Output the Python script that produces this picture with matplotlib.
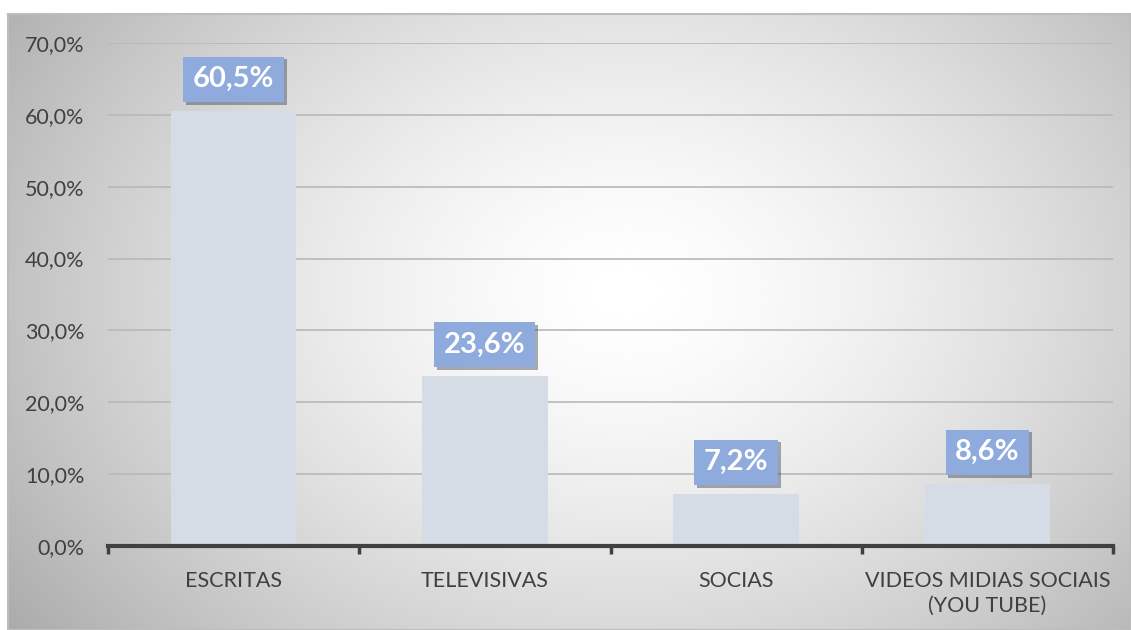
import numpy as np
import matplotlib.pyplot as plt
from matplotlib import patheffects as pe

categorias = ["ESCRITAS", "TELEVISIVAS", "SOCIAS", "VIDEOS MIDIAS SOCIAIS\n(YOU TUBE)"]
valores = [60.5, 23.6, 7.2, 8.6]
rotulos = ["60,5%", "23,6%", "7,2%", "8,6%"]
yticks = [0, 10, 20, 30, 40, 50, 60, 70]
ytick_labels = ["0,0%", "10,0%", "20,0%", "30,0%", "40,0%", "50,0%", "60,0%", "70,0%"]

plt.rcParams['font.family'] = ['Lato', 'DejaVu Sans']

fig = plt.figure(figsize=(11.31, 6.30), dpi=100)

# fundo com gradiente radial
bg = fig.add_axes([8 / 1131, 0, 1 - 8 / 1131, 1 - 14 / 630], zorder=-10)
ny, nx = 300, 560
yy, xx = np.mgrid[0:ny, 0:nx]
cx, cy = nx * 0.55, ny * 0.45
r = np.sqrt(((xx - cx) / (nx * 0.55)) ** 2 + ((yy - cy) / (ny * 0.75)) ** 2)
val = 1 - 0.24 * np.clip(r, 0, 1.4) ** 1.5
bg.imshow(val, cmap='gray', vmin=0, vmax=1, aspect='auto', interpolation='bicubic')
bg.set_xticks([])
bg.set_yticks([])
for s in bg.spines.values():
    s.set_color('#bdbdbd')
    s.set_linewidth(1.5)

ax = fig.add_axes([108 / 1131, 1 - 546 / 630, (1113 - 108) / 1131, (546 - 43) / 630])
ax.patch.set_alpha(0)

x = np.arange(len(categorias))
bars = ax.bar(x, valores, width=0.5, color='#D6DCE5', zorder=2)
for b in bars:
    b.set_path_effects([pe.SimplePatchShadow(offset=(0, 0), shadow_rgbFace='#9a9a9a', alpha=0.25),
                        pe.Normal()])

for xi, v, lab in zip(x, valores, rotulos):
    t = ax.annotate(lab, (xi, v), xytext=(0, 23), textcoords='offset points',
                    ha='center', va='center', color='white', fontsize=21, fontweight='bold',
                    bbox=dict(boxstyle='square,pad=0.33', fc='#8FAADC', ec='none'), zorder=5)
    t.get_bbox_patch().set_path_effects([pe.SimplePatchShadow(offset=(2, -2), alpha=0.4), pe.Normal()])

ax.set_xlim(-0.5, len(categorias) - 0.5)
ax.set_ylim(0, 70)
ax.set_yticks(yticks)
ax.set_yticklabels(ytick_labels, fontsize=15.5, color='#404040')
ax.yaxis.grid(True, color='#b8b8b8', linewidth=1.2, zorder=0)
ax.set_axisbelow(True)
ax.tick_params(axis='y', length=0, pad=17)

ax.set_xticks(x)
ax.set_xticklabels(categorias, fontsize=15.5, color='#404040', linespacing=1.3)
ax.set_xticks(np.arange(-0.5, len(categorias)), minor=True)
ax.tick_params(axis='x', which='major', length=0, pad=18)
ax.tick_params(axis='x', which='minor', length=6, width=2.5, color='#404040', direction='out')

for s in ['top', 'right', 'left']:
    ax.spines[s].set_visible(False)
ax.spines['bottom'].set_color('#404040')
ax.spines['bottom'].set_linewidth(3)

fig.savefig('out.png', dpi=100)
